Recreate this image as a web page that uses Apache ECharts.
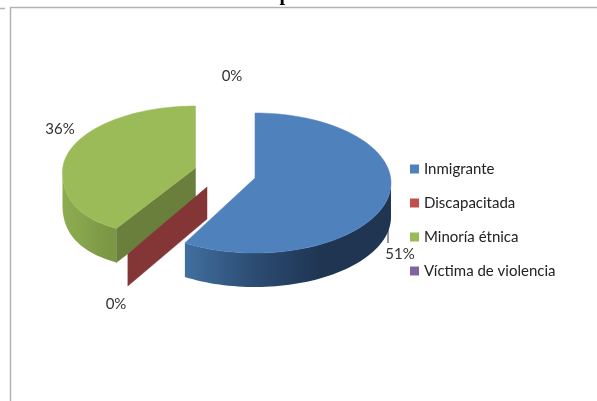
<!DOCTYPE html>
<html>
<head>
<meta charset="utf-8">
<style>
  html, body { margin: 0; padding: 0; background: #fff; }
  #chart { width: 597px; height: 401px; }
</style>
<script src="https://cdn.jsdelivr.net/npm/echarts@6/dist/echarts.min.js"></script>
</head>
<body>
<div id="chart"></div>
<script>
// datos
const categories = ['Inmigrante', 'Discapacitada', 'Minoría étnica', 'Víctima de violencia'];
const seriesValues = [51, 0, 36, 0];
const colors = ['#4f81bd', '#c0504d', '#9bbb59', '#8064a2'];

// cada porcion separada tiene su propia elipse (pastel 3D explotado)
const faces = [
  { cx: 255, cy: 183, rx: 136, ry: 70, apexDy: -5, depth: 34, k: 0, label: [400, 254], wall: '#2f527c',
    side: ['#41709f', '#2c4c73', '#1f3552', '#1f3552'] },
  { cx: 207, cy: 197.5, rx: 133, ry: 66, apexDy: -10.5, depth: 32, k: 0.21, label: [116, 304], wall: '#843636',
    side: ['#843636', '#843636', '#843636', '#843636'] },
  { cx: 195.5, cy: 172, rx: 133, ry: 66, apexDy: -4, depth: 34, k: 0.21, label: [60, 129], wall: '#6b7f3c',
    side: ['#8dab4f', '#88a64c', '#7f9b47', '#7a9644'] },
  { cx: 255, cy: 160, rx: 136, ry: 70, apexDy: -5, depth: 34, k: 0, label: [232, 76], wall: '#5e4a78',
    side: ['#5e4a78', '#5e4a78', '#5e4a78', '#5e4a78'] }
];

const total = seriesValues.reduce((a, b) => a + b, 0);

// punto del borde de la elipse para un angulo en grados (0 = arriba, sentido horario)
const edgePoint = (f, deg) => {
  const r = deg * Math.PI / 180;
  const front = Math.max(0, -Math.cos(r));
  return [f.cx + f.rx * Math.sin(r) * (1 + f.k * front * front), f.cy - f.ry * Math.cos(r)];
};

const arcPoints = (f, from, to) => {
  const pts = [];
  const n = Math.max(1, Math.ceil((to - from) / 2));
  for (let i = 0; i <= n; i++) pts.push(edgePoint(f, from + (to - from) * i / n));
  return pts;
};

const renderSlice = (idx) => (params, api) => {
  const f = faces[idx];
  const start = seriesValues.slice(0, idx).reduce((a, b) => a + b, 0) / total * 360;
  const end = start + api.value(0) / total * 360;
  const apex = [f.cx, f.cy + f.apexDy];
  const down = (p) => [p[0], p[1] + f.depth];
  const children = [];
  const poly = (points, fill) => ({
    type: 'polygon',
    shape: { points },
    style: { fill, stroke: typeof fill === 'string' ? fill : null, lineWidth: 0.5 }
  });

  // pared de corte: solo visible si mira hacia el frente
  if (start > 90 && start < 270) {
    const e = edgePoint(f, start);
    children.push(poly([apex, e, down(e), down(apex)], f.wall));
  }

  if (end > start) {
    // pared exterior, solo la mitad delantera
    const from = Math.max(start, 90);
    const to = Math.min(end, 270);
    if (to > from) {
      const arc = arcPoints(f, from, to);
      children.push(poly(arc.concat(arc.slice().reverse().map(down)),
        new echarts.graphic.LinearGradient(0, 0, 1, 0,
          f.side.map((color, i) => ({ offset: i / 3, color })))));
    }
    // cara superior
    children.push(poly([apex].concat(arcPoints(f, start, end)), colors[idx]));
  }

  children.push({
    type: 'text',
    style: {
      text: api.value(0) + '%',
      x: f.label[0], y: f.label[1],
      align: 'center', verticalAlign: 'middle',
      font: '15px Lato',
      fill: '#333'
    }
  });
  return { type: 'group', children };
};

// orden de dibujo: verde y roja detras de la azul
const drawOrder = [2, 1, 0, 3];

const chart = echarts.init(document.getElementById('chart'));
chart.setOption({
  backgroundColor: '#fff',
  animation: false,
  legend: {
    orient: 'vertical',
    left: 410,
    top: 160,
    padding: 0,
    itemWidth: 9,
    itemHeight: 9,
    itemGap: 16,
    icon: 'rect',
    data: categories,
    textStyle: { color: '#222', fontFamily: 'Lato', fontSize: 15, lineHeight: 18 }
  },
  graphic: [
    { type: 'line', shape: { x1: 10, y1: 7.5, x2: 597, y2: 7.5 }, style: { stroke: '#b3b3b3', lineWidth: 1.5 } },
    { type: 'line', shape: { x1: 10.5, y1: 7, x2: 10.5, y2: 401 }, style: { stroke: '#b3b3b3', lineWidth: 1.5 } },
    { type: 'line', shape: { x1: 0, y1: 8.5, x2: 5, y2: 8.5 }, style: { stroke: '#b3b3b3', lineWidth: 1.5 } },
    // linea guia del 51%
    { type: 'line', shape: { x1: 388, y1: 226, x2: 388, y2: 243 }, style: { stroke: '#333', lineWidth: 1 } },
    // resto del titulo, cortado por el borde superior
    { type: 'text', style: { text: 'p', x: 285, y: -15, align: 'center', font: 'bold 20px "Liberation Serif"', fill: '#000' } }
  ],
  series: drawOrder.map((idx) => ({
    type: 'custom',
    name: categories[idx],
    coordinateSystem: 'none',
    silent: true,
    itemStyle: { color: colors[idx] },
    data: [[seriesValues[idx]]],
    renderItem: renderSlice(idx)
  }))
});
</script>
</body>
</html>
